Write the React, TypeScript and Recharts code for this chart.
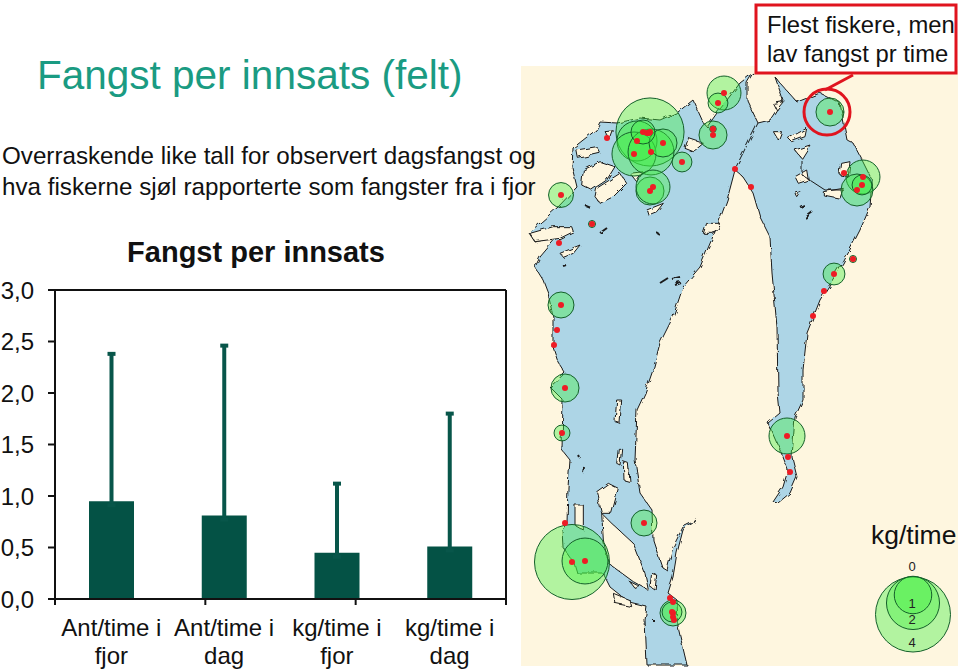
import React from 'react';
import {
  BarChart,
  Bar,
  ErrorBar,
  XAxis,
  YAxis,
  ZAxis,
  ScatterChart,
  Scatter,
} from 'recharts';

const FONT = '"Liberation Sans", Arial, sans-serif';

// bar chart
const categories = ['Ant/time i fjor', 'Ant/time i dag', 'kg/time i fjor', 'kg/time i dag'];
const means = [0.95, 0.81, 0.45, 0.51];
const errorTops = [2.38, 2.46, 1.12, 1.8];
const yTicks = [0, 0.5, 1, 1.5, 2, 2.5, 3];
const edgeTicks = [0, 1, 2, 3, 4];

const barData = categories.map((name, i) => ({
  name,
  mean: means[i],
  err: [0.04, errorTops[i] - means[i]],
}));

// map stations: page x, page y, kg/time
const stations: [number, number, number][] = [
  [650, 132, 3.3], [637, 141, 1.14], [634, 154, 1.38], [651, 152, 1.5], [663, 143, 0.56], [643, 132, 0.41],
  [724, 93, 0.82], [718, 103, 0.28], [682, 162, 0.28], [713, 135, 0.56], [713, 129, 0.03],
  [830, 112, 0.56], [863, 177, 0.82], [857, 190, 0.73], [862, 185, 0.28], [844, 173, 0.01],
  [650, 191, 0.56], [653, 187, 0.82], [561, 195, 0.44], [592, 224, 0.035],
  [853, 259, 0.035], [834, 274, 0.34], [561, 305, 0.48],
  [565, 388, 0.56], [562, 433, 0.18], [787, 436, 0.92],
  [572, 562, 4], [585, 561, 1.5], [644, 523, 0.48],
  [673, 613, 0.48], [672, 612, 0.28],
];

// stations with no catch, dot only
const emptyStations: [number, number][] = [
  [559, 243], [607, 138], [735, 169], [751, 187], [824, 291], [813, 316], [557, 330], [554, 345],
  [788, 457], [790, 472], [565, 523], [670, 598], [673, 602], [673, 617], [674, 620], [647, 133], [649, 133],
];

const legendSizes: [number, number, number][] = [
  [913, 614.5, 4],
  [913, 603, 2],
  [913, 595, 1],
];
const legendLabels: [string, number][] = [['0', 571], ['1', 608], ['2', 624], ['4', 647]];

const bubbleData = stations.map(([x, y, kg]) => ({ x, y, kg }));
const dotData = [
  ...stations.map(([x, y]) => ({ x, y })),
  ...emptyStations.map(([x, y]) => ({ x, y })),
];
const legendData = legendSizes.map(([x, y, kg]) => ({ x, y, kg }));

// shoreline, page coordinates
const shore: [number, number][] = [
  [753, 73], [740, 83], [717, 113], [707, 127], [703, 122], [693, 100], [678, 112], [660, 120], [640, 118], [617, 123], [600, 122],
  [596, 130], [587, 137], [573, 148], [572, 167], [577, 187], [558, 207], [540, 223], [529, 233], [535, 242], [557, 237],
  [540, 257], [535, 267], [543, 280], [548, 293], [553, 317], [553, 347], [558, 362], [565, 373], [550, 387], [563, 400],
  [562, 450], [570, 460], [568, 487], [567, 523], [562, 530], [563, 547], [574, 563], [577, 573], [603, 573], [610, 587],
  [630, 603], [647, 607], [645, 620], [647, 665], [687, 665], [678, 627], [677, 600], [668, 593], [673, 577], [677, 553],
  [683, 530], [697, 520], [683, 527], [673, 547], [667, 570], [662, 567], [653, 540], [652, 510], [640, 493], [635, 460],
  [637, 410], [645, 393], [653, 370], [660, 343], [673, 317], [683, 287], [700, 267], [717, 227], [727, 200], [735, 170],
  [742, 176], [753, 193], [760, 217], [770, 237], [772, 273], [777, 327], [778, 393], [780, 413], [768, 423], [783, 457],
  [788, 470], [783, 487], [773, 502], [778, 503], [790, 493], [797, 477], [792, 457], [795, 417], [803, 400], [803, 370],
  [807, 333], [820, 300], [843, 263], [860, 230], [870, 207], [872, 180], [862, 160], [853, 143], [847, 140], [840, 103],
  [820, 93], [797, 102], [780, 83], [775, 77], [783, 100], [770, 120], [758, 123], [747, 100], [747, 83],
];

// islands traced on the zoomed crops, converted below
const northIslands: [number, number][][] = [
  [[190, 330], [240, 305], [285, 320], [260, 360], [215, 390], [185, 375]],
  [[230, 385], [300, 340], [320, 370], [280, 410], [240, 430], [225, 410]],
  [[170, 270], [230, 260], [240, 280], [175, 295]],
  [[330, 340], [370, 335], [350, 365]],
  [[380, 450], [430, 430], [410, 455], [385, 465]],
  [[505, 235], [550, 250], [520, 275], [495, 265]],
  [[255, 215], [280, 212], [270, 240]],
  [[560, 490], [600, 490], [580, 520], [550, 520]],
  [[30, 520], [100, 500], [155, 500], [160, 515], [120, 535], [45, 545]],
  [[120, 580], [180, 555], [160, 580], [130, 592]],
  [[825, 270], [870, 255], [845, 295]],
  [[805, 235], [860, 205], [855, 230], [815, 245]],
  [[825, 350], [860, 330], [865, 360], [835, 370]],
  [[825, 400], [840, 395], [830, 410]],
  [[760, 130], [790, 125], [770, 150]],
  [[760, 215], [785, 215], [775, 240]],
  [[965, 310], [990, 305], [985, 350], [960, 345]],
  [[910, 395], [970, 385], [960, 415], [910, 405]],
];
const southIslands: [number, number][][] = [
  [[290, 120], [305, 120], [300, 190], [285, 185]],
  [[295, 265], [305, 265], [300, 315], [290, 310]],
  [[310, 305], [325, 310], [330, 365], [312, 360]],
  [[230, 395], [265, 370], [295, 385], [275, 460], [245, 460]],
  [[165, 435], [190, 435], [190, 510], [165, 495]],
  [[245, 460], [275, 490], [340, 550], [375, 640], [385, 690], [340, 665], [265, 610], [250, 540]],
  [[395, 640], [410, 645], [405, 690], [390, 680]],
  [[280, 700], [330, 720], [335, 740], [285, 730]],
  [[330, 665], [360, 680], [345, 685]],
];

// thin borders and small skerries
const borders: [number, number][][] = [
  [[735, 169], [758, 123]],
  [[802, 160], [802, 175], [825, 190], [843, 190]],
];
const skerries: [number, number][][] = [
  [[660, 283], [668, 278]], [[672, 279], [680, 277]], [[675, 285], [681, 283]],
  [[805, 218], [813, 212]], [[800, 207], [804, 205]], [[600, 233], [607, 228]],
  [[656, 232], [659, 234]], [[585, 205], [590, 207]], [[563, 266], [566, 265]],
  [[579, 456], [580, 458]], [[583, 473], [584, 467]], [[654, 620], [654, 622]],
];

const toPoints = (pts: [number, number][]) => pts.map(p => p.join(',')).join(' ');
const northPage = (pts: [number, number][]) => pts.map(([x, y]) => [520 + x / 3, 60 + y / 3] as [number, number]);
const southPage = (pts: [number, number][]) => pts.map(([x, y]) => [520 + x / 3, 360 + y / 3] as [number, number]);

const CategoryTick = ({ x, y, payload }: any) => {
  const words = String(payload.value).split(' ');
  const last = words.pop();
  return (
    <text x={x} y={y} textAnchor="middle" fontFamily={FONT} fontSize={24} fill="#111">
      <tspan x={x} dy={21}>{words.join(' ')}</tspan>
      <tspan x={x} dy={28}>{last}</tspan>
    </text>
  );
};

const RedDot = ({ cx, cy }: any) => <circle cx={cx} cy={cy} r={3} fill="#EE1C25" />;

const Basemap = () => (
  <svg width={960} height={670} style={{ position: 'absolute', left: 0, top: 0 }}>
    <defs>
      <filter id="rough" x="0" y="0" width="100%" height="100%" filterUnits="userSpaceOnUse">
        <feTurbulence type="fractalNoise" baseFrequency="0.12" numOctaves={2} seed={4} />
        <feDisplacementMap in="SourceGraphic" scale={5} />
      </filter>
    </defs>
    <rect x={521} y={66} width={437} height={600} fill="#FEF6DF" />
    <g filter="url(#rough)">
      <polygon points={toPoints(shore)} fill="#ADD5E6" stroke="#1a1a1a" strokeWidth={1} />
      {northIslands.map((isl, i) => (
        <polygon key={`n${i}`} points={toPoints(northPage(isl))} fill="#FEF6DF" stroke="#1a1a1a" strokeWidth={1} />
      ))}
      {southIslands.map((isl, i) => (
        <polygon key={`s${i}`} points={toPoints(southPage(isl))} fill="#FEF6DF" stroke="#1a1a1a" strokeWidth={1} />
      ))}
      {borders.map((b, i) => (
        <polyline key={`b${i}`} points={toPoints(b)} fill="none" stroke="#1a1a1a" strokeWidth={1} />
      ))}
      {skerries.map((b, i) => (
        <polyline key={`k${i}`} points={toPoints(b)} fill="none" stroke="#1a1a1a" strokeWidth={2} />
      ))}
    </g>
  </svg>
);

const MapBubbles = () => (
  <div style={{ position: 'absolute', left: 0, top: 0 }}>
    <ScatterChart width={960} height={670} margin={{ top: 0, right: 0, bottom: 0, left: 0 }}>
      <XAxis type="number" dataKey="x" domain={[0, 960]} hide />
      <YAxis type="number" dataKey="y" domain={[0, 670]} reversed hide />
      <ZAxis zAxisId="kg" type="number" dataKey="kg" domain={[0, 4]} range={[0, 4418]} />
      <Scatter
        data={bubbleData}
        zAxisId="kg"
        fill="#40F040"
        fillOpacity={0.4}
        stroke="#14602A"
        strokeWidth={1}
        isAnimationActive={false}
      />
      <Scatter data={legendData} zAxisId="kg" fill="#40F040" fillOpacity={0.4} stroke="#14602A" strokeWidth={1} isAnimationActive={false} />
      <Scatter data={dotData} shape={RedDot} isAnimationActive={false} />
    </ScatterChart>
  </div>
);

export default function App() {
  return (
    <div style={{ position: 'absolute', left: 0, top: 0, width: 960, height: 670, background: '#fff', overflow: 'hidden', fontFamily: FONT }}>
      <Basemap />
      <MapBubbles />

      <div style={{ position: 'absolute', left: 37, top: 53, fontSize: 40.5, lineHeight: '44px', color: '#1A9B82', whiteSpace: 'nowrap' }}>
        Fangst per innsats (felt)
      </div>
      <div style={{ position: 'absolute', left: 2, top: 140, fontSize: 24.2, lineHeight: '31px', color: '#111', whiteSpace: 'nowrap' }}>
        Overraskende like tall for observert dagsfangst og
        <br />
        hva fiskerne sjøl rapporterte som fangster fra i fjor
      </div>

      <div style={{ position: 'absolute', left: 0, top: 270 }}>
        <BarChart width={520} height={400} data={barData} margin={{ top: 19, right: 13, bottom: 0, left: 0 }} barCategoryGap={34}>
          <XAxis
            xAxisId={0}
            type="number"
            domain={[0, 4]}
            ticks={edgeTicks}
            height={8}
            stroke="#111"
            strokeWidth={2}
            tickSize={6}
            tickFormatter={() => ''}
          />
          <XAxis
            xAxisId={1}
            dataKey="name"
            height={63}
            axisLine={false}
            tickLine={false}
            interval={0}
            tick={CategoryTick}
          />
          <XAxis xAxisId={2} orientation="top" type="number" domain={[0, 4]} height={1} tick={false} stroke="#111" strokeWidth={2} />
          <YAxis
            domain={[0, 3]}
            ticks={yTicks}
            width={55}
            stroke="#111"
            strokeWidth={2}
            tickSize={7}
            tickMargin={14}
            tick={{ fontSize: 24, fill: '#111', fontFamily: FONT }}
            tickFormatter={(v: number) => v.toFixed(1).replace('.', ',')}
          />
          <YAxis yAxisId="right" orientation="right" domain={[0, 3]} width={1} tick={false} stroke="#111" strokeWidth={2} />
          <Bar xAxisId={1} dataKey="mean" fill="#045245" isAnimationActive={false}>
            <ErrorBar dataKey="err" direction="y" width={4} stroke="#08564A" strokeWidth={4} isAnimationActive={false} />
          </Bar>
        </BarChart>
      </div>

      <svg width={960} height={670} style={{ position: 'absolute', left: 0, top: 0 }}>
        <text x={256} y={262} textAnchor="middle" fontSize={29} fontWeight="bold" fill="#111" fontFamily={FONT}>Fangst per innsats</text>
        <text x={871} y={544} fontSize={26.5} fill="#111" fontFamily={FONT}>kg/time</text>
        {legendLabels.map(([label, y]) => (
          <text key={label} x={912} y={y} textAnchor="middle" fontSize={13} fill="#222" fontFamily={FONT}>{label}</text>
        ))}
        <line x1={853} y1={75} x2={825} y2={90} stroke="#E0141E" strokeWidth={3} />
        <circle cx={827} cy={112} r={23} fill="none" stroke="#E0141E" strokeWidth={3} />
        <rect x={756} y={5} width={200} height={68} fill="#fff" stroke="#E0141E" strokeWidth={3} />
        <text x={767} y={33} fontSize={23.8} fill="#111" fontFamily={FONT}>Flest fiskere, men</text>
        <text x={767} y={62} fontSize={23.8} fill="#111" fontFamily={FONT}>lav fangst pr time</text>
      </svg>
    </div>
  );
}
